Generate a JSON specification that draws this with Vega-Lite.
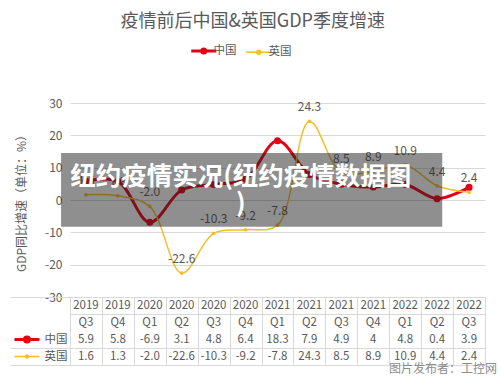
{
  "$schema": "https://vega.github.io/schema/vega-lite/v6.json",
  "padding": {"left": 8, "top": 13, "right": 0, "bottom": 0},
  "background": "white",
  "bounds": "flush",
  "title": {"text": "疫情前后中国&英国GDP季度增速", "fontSize": 18, "fontWeight": "normal", "color": "#595959", "offset": 14, "anchor": "middle"},
  "data": {"values": [
    {"q": "2019Q3", "year": "2019", "qq": "Q3", "中国": 5.9, "英国": 1.6},
    {"q": "2019Q4", "year": "2019", "qq": "Q4", "中国": 5.8, "英国": 1.3},
    {"q": "2020Q1", "year": "2020", "qq": "Q1", "中国": -6.9, "英国": -2.0},
    {"q": "2020Q2", "year": "2020", "qq": "Q2", "中国": 3.1, "英国": -22.6},
    {"q": "2020Q3", "year": "2020", "qq": "Q3", "中国": 4.8, "英国": -10.3},
    {"q": "2020Q4", "year": "2020", "qq": "Q4", "中国": 6.4, "英国": -9.2},
    {"q": "2021Q1", "year": "2021", "qq": "Q1", "中国": 18.3, "英国": -7.8},
    {"q": "2021Q2", "year": "2021", "qq": "Q2", "中国": 7.9, "英国": 24.3},
    {"q": "2021Q3", "year": "2021", "qq": "Q3", "中国": 4.9, "英国": 8.5},
    {"q": "2021Q4", "year": "2021", "qq": "Q4", "中国": 4, "英国": 8.9},
    {"q": "2022Q1", "year": "2022", "qq": "Q1", "中国": 4.8, "英国": 10.9},
    {"q": "2022Q2", "year": "2022", "qq": "Q2", "中国": 0.4, "英国": 4.4},
    {"q": "2022Q3", "year": "2022", "qq": "Q3", "中国": 3.9, "英国": 2.4}
  ]},
  "spacing": 0,
  "vconcat": [
    {
      "width": 415,
      "height": 194,
      "layer": [
        {
          "transform": [{"fold": ["中国", "英国"], "as": ["country", "v"]}],
          "encoding": {
            "x": {"field": "q", "type": "nominal", "sort": null, "scale": {"domain": ["2019Q3","2019Q4","2020Q1","2020Q2","2020Q3","2020Q4","2021Q1","2021Q2","2021Q3","2021Q4","2022Q1","2022Q2","2022Q3"], "paddingInner": 0, "paddingOuter": 0}, "axis": null},
            "y": {"field": "v", "type": "quantitative", "scale": {"domain": [-30, 30], "nice": false, "zero": false},
              "axis": {"values": [-30, -20, -10, 0, 10, 20, 30], "labelOverlap": false, "title": "GDP同比增速（单位：%）", "titleFontSize": 12, "titleFontWeight": "normal", "titleColor": "#595959", "titlePadding": 16, "labelFontSize": 12, "labelColor": "#595959", "labelPadding": 8, "ticks": false, "domain": false, "grid": true, "gridColor": "#d9d9d9"}},
            "color": {"field": "country", "type": "nominal", "scale": {"domain": ["中国", "英国"], "range": ["#e60012", "#f4bd2a"]},
              "legend": {"orient": "none", "legendX": 128, "legendY": -58, "direction": "horizontal", "title": null, "labelFontSize": 11.5, "labelColor": "#595959", "symbolType": "M-1,0H1M-0.16,0a0.16,0.16 0 1,0 0.32,0a0.16,0.16 0 1,0 -0.32,0", "symbolSize": 625, "columnPadding": 6, "labelOffset": 4,
                "encode": {"symbols": {"update": {"size": {"value": 625}, "strokeWidth": {"signal": "datum.value == '中国' ? 3 : 1.5"}, "fill": {"scale": "color", "field": "value"}}}}}}
          },
          "layer": [
            {"mark": {"type": "line", "interpolate": "catmull-rom"},
             "encoding": {"strokeWidth": {"condition": {"test": "datum.country == '中国'", "value": 3}, "value": 1.5}}},
            {"mark": {"type": "circle", "opacity": 1},
             "encoding": {"size": {"condition": {"test": "datum.country == '中国'", "value": 50}, "value": 14}}},
            {"transform": [{"filter": "datum.country == '英国'"}],
             "mark": {"type": "text", "dy": -14, "fontSize": 12},
             "encoding": {"text": {"field": "v", "type": "quantitative", "format": ".1f"}, "color": {"value": "#595959"}}}
          ]
        },
        {
          "data": {"values": [{"label": "纽约疫情实况(纽约疫情数据图\n)"}]},
          "encoding": {
            "x": {"datum": 0, "type": "quantitative", "scale": {"domain": [0, 13], "nice": false, "zero": false}, "axis": null},
            "y": {"datum": 0, "type": "quantitative", "scale": {"domain": [-30, 30], "nice": false, "zero": false}, "axis": null}
          },
          "layer": [
            {"mark": {"type": "rect", "color": "#202020", "opacity": 0.5},
             "encoding": {
               "x": {"datum": -0.28, "type": "quantitative"},
               "x2": {"datum": 11.66},
               "y": {"datum": 14.5, "type": "quantitative"},
               "y2": {"datum": -8.3}
             }},
            {"mark": {"type": "text", "lineBreak": "\n", "fontSize": 25.5, "fontWeight": "bold", "color": "white", "lineHeight": 27, "align": "center", "baseline": "middle"},
             "encoding": {
               "x": {"datum": 5.35, "type": "quantitative"},
               "y": {"datum": 7.1, "type": "quantitative"},
               "text": {"field": "label", "type": "nominal"}
             }}
          ]
        }
      ],
      "resolve": {"scale": {"x": "independent", "y": "independent"}, "axis": {"y": "independent"}}
    },
    {
      "width": 415,
      "height": 68,
      "title": {"text": "图片发布者：工控网", "orient": "bottom", "anchor": "end", "fontSize": 12, "fontWeight": "normal", "color": "#8c8c8c", "offset": -2, "dx": 12},
      "layer": [
        {
          "transform": [{"fold": ["year", "qq", "中国", "英国"], "as": ["key", "value"]}],
          "mark": {"type": "text", "fontSize": 11.5, "color": "#595959"},
          "encoding": {
            "x": {"field": "q", "type": "nominal", "title": null, "scale": {"domain": ["2019Q3","2019Q4","2020Q1","2020Q2","2020Q3","2020Q4","2021Q1","2021Q2","2021Q3","2021Q4","2022Q1","2022Q2","2022Q3"], "paddingInner": 0, "paddingOuter": 0},
              "axis": {"title": null, "labels": false, "ticks": false, "domain": false, "grid": true, "tickBand": "extent", "gridColor": "#d9d9d9"}},
            "y": {"field": "key", "type": "nominal", "title": null, "scale": {"domain": ["year", "qq", "中国", "英国"], "paddingInner": 0, "paddingOuter": 0},
              "axis": {"title": null, "domain": false, "grid": true, "tickBand": "extent", "gridColor": "#d9d9d9",
                "gridOpacity": {"condition": {"test": "datum.value == 'qq'", "value": 0}, "value": 1},
                "ticks": true, "tickSize": 60, "tickColor": "#d9d9d9",
                "tickOpacity": {"condition": {"test": "datum.value == 'year' || datum.value == 'qq'", "value": 0}, "value": 1},
                "labelExpr": "datum.value == '中国' || datum.value == '英国' ? datum.value : ''",
                "labelPadding": -57, "labelFontSize": 11.5, "labelColor": "#595959"}},
            "text": {"condition": {"test": "datum.key == '英国'", "field": "value", "type": "quantitative", "format": ".1f"}, "field": "value", "type": "nominal"}
          }
        },
        {
          "data": {"values": [{"s": "中国"}]},
          "mark": {"type": "point", "shape": "M-1,0H1M-0.2,0a0.2,0.2 0 1,0 0.4,0a0.2,0.2 0 1,0 -0.4,0", "size": 625, "strokeWidth": 3, "color": "#e60012", "filled": false, "opacity": 1, "xOffset": -59},
          "encoding": {"x": {"datum": "2019Q3", "type": "nominal", "title": null}, "y": {"field": "s", "type": "nominal", "title": null}}
        },
        {
          "data": {"values": [{"s": "英国"}]},
          "mark": {"type": "point", "shape": "M-1,0H1M-0.12,0a0.12,0.12 0 1,0 0.24,0a0.12,0.12 0 1,0 -0.24,0", "size": 625, "strokeWidth": 1.5, "color": "#f4bd2a", "filled": false, "opacity": 1, "xOffset": -59},
          "encoding": {"x": {"datum": "2019Q3", "type": "nominal", "title": null}, "y": {"field": "s", "type": "nominal", "title": null}}
        }
      ]
    }
  ],
  "config": {
    "view": {"stroke": null},
    "font": "Noto Sans CJK SC",
    "locale": {"number": {"decimal": ".", "thousands": ",", "grouping": [3], "currency": ["$", ""], "minus": "-"}}
  }
}
